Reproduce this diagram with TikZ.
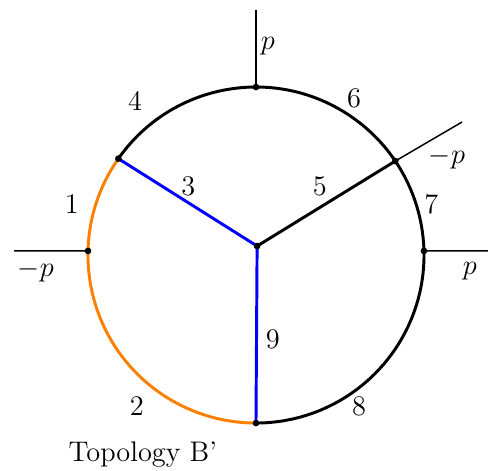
\documentclass[tikz,border=0pt]{standalone}
\begin{document}
\begin{tikzpicture}[
    prop/.style={line width=1.5pt},
    leg/.style={line width=0.75pt},
    lab/.style={font=\Large}]
  \useasboundingbox (-4.571,-3.839) rectangle (4.143,4.554);
  % vertices
  \coordinate (top) at (90:3);
  \coordinate (ul) at (145:3);
  \coordinate (ur) at (34:3);
  \coordinate (li) at (178.6:3);
  \coordinate (ri) at (1.4:3);
  \coordinate (bot) at (270:3);
  \coordinate (c) at (0.02,0.16);
  % circle
  \draw[prop, orange] (ul) arc[start angle=145, end angle=270, radius=3];
  \draw[prop] (ul) arc[start angle=145, end angle=-90, radius=3];
  % inner lines
  \draw[prop, blue] (c) -- (ul);
  \draw[prop, blue] (c) -- (bot);
  \draw[prop] (c) -- (ur);
  % external legs
  \coordinate (topend) at (0,4.375);
  \coordinate (urend) at (3.679,2.375);
  \coordinate (riend) at (4.143,0.073);
  \coordinate (liend) at (-4.32,0.073);
  \draw[leg] (top) -- (topend);
  \draw[leg] (ur) -- (urend);
  \draw[leg] (ri) -- (riend);
  \draw[leg] (li) -- (liend);
  \node[lab] (ptop) at (0.21,3.73) {$p$};
  \node[lab] (pur) at (3.41,1.73) {$-p$};
  \node[lab] (pri) at (3.82,-0.29) {$p$};
  \node[lab] (pli) at (-3.93,-0.29) {$-p$};
  % propagator labels
  \node[lab] (l1) at (-3.29,0.91) {1};
  \node[lab] (l2) at (-2.13,-2.70) {2};
  \node[lab] (l3) at (-1.21,1.23) {3};
  \node[lab] (l4) at (-2.16,2.75) {4};
  \node[lab] (l5) at (1.14,1.23) {5};
  \node[lab] (l6) at (1.75,2.79) {6};
  \node[lab] (l7) at (3.13,0.91) {7};
  \node[lab] (l8) at (1.84,-2.71) {8};
  \node[lab] (l9) at (0.30,-1.50) {9};
  \node[lab] (title) at (-2.02,-3.57) {Topology B'};
  % dots
  \foreach \v in {top,ul,ur,li,ri,bot,c}
    \fill (\v) circle (1.7pt);
\end{tikzpicture}
\end{document}
